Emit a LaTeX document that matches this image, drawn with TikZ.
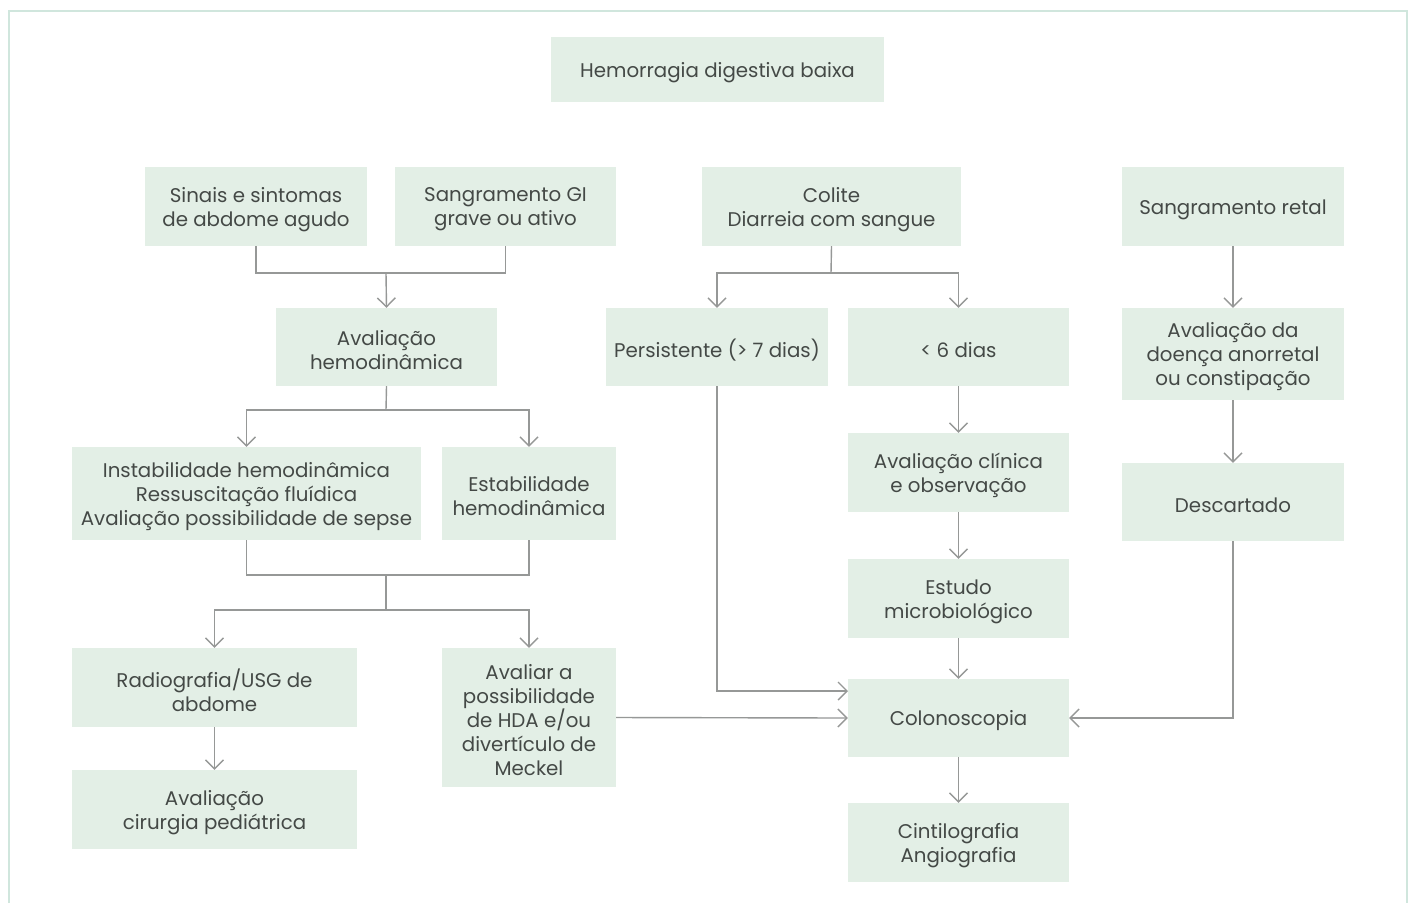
\documentclass[tikz,border=0pt]{standalone}
\usepackage{fontspec}
\setmainfont{Poppins}
\usetikzlibrary{arrows.meta}
\definecolor{boxfill}{RGB}{227,239,230}
\definecolor{boxtext}{RGB}{68,73,70}
\definecolor{linkgray}{RGB}{150,152,151}
\definecolor{framecol}{RGB}{208,230,221}
\tikzset{
  box/.style={fill=boxfill, inner sep=0pt},
  boxlabel/.style={text=boxtext, inner sep=0pt, align=center,
    font=\fontsize{19.8}{24}\selectfont},
  link/.style={draw=linkgray, line width=1.4pt},
  arr/.style={link, -{Straight Barb[length=9pt,width=18pt,line width=1.4pt]}},
}
\newcommand{\boxat}[6]{% name, x1, y1, x2, y2, text
  \node[box, minimum width={#4-#2}, minimum height={#5-#3}]
    (#1) at ({(#2+#4)/2},{(#3+#5)/2}) {};
  \node[boxlabel] at ([yshift=-3pt]#1.center) {#6};}
\begin{document}
\begin{tikzpicture}[x=1pt,y=-1pt]
\useasboundingbox (0,0) rectangle (1412,903);
\fill[white] (0,0) rectangle (1412,903);
% outer frame
\draw[framecol, line width=2.5pt] (9,903) -- (9,11) -- (1407,11) -- (1407,903);

% boxes
\boxat{top}{551}{37}{884}{102}{Hemorragia digestiva baixa}
\boxat{sinais}{145}{167}{367}{246}{Sinais e sintomas\\de abdome agudo}
\boxat{sgi}{395}{167}{616}{246}{Sangramento GI\\grave ou ativo}
\boxat{colite}{702}{167}{961}{246}{Colite\\Diarreia com sangue}
\boxat{retal}{1122}{167}{1344}{246}{Sangramento retal}
\boxat{avh}{276}{308}{497}{386}{Avaliação\\hemodinâmica}
\boxat{pers}{606}{308}{828}{386}{Persistente (> 7 dias)}
\boxat{seis}{848}{308}{1069}{386}{< 6 dias}
\boxat{anor}{1122}{308}{1344}{400}{Avaliação da\\doença anorretal\\ou constipação}
\boxat{instab}{72}{447}{421}{540}{Instabilidade hemodinâmica\\Ressuscitação fluídica\\Avaliação possibilidade de sepse}
\boxat{estab}{442}{447}{616}{540}{Estabilidade\\hemodinâmica}
\boxat{clin}{848}{433}{1069}{512}{Avaliação clínica\\e observação}
\boxat{desc}{1122}{463}{1344}{541}{Descartado}
\boxat{micro}{848}{559}{1069}{638}{Estudo\\microbiológico}
\boxat{radio}{72}{648}{357}{727}{Radiografia/USG de\\abdome}
\boxat{hda}{442}{648}{616}{787}{Avaliar a\\possibilidade\\de HDA e/ou\\divertículo de\\Meckel}
\boxat{colono}{848}{679}{1069}{757}{Colonoscopia}
\boxat{cirur}{72}{770}{357}{849}{Avaliação\\cirurgia pediátrica}
\boxat{cinti}{848}{803}{1069}{882}{Cintilografia\\Angiografia}

% junction points
\coordinate (j1) at (386,273);
\coordinate (j2) at (386,410);
\coordinate (j3) at (386,575);
\coordinate (j4) at (386,610);
\coordinate (j5) at (831,273);
\coordinate (pc) at (848,691);

% left column
\draw[link] (sinais.south) |- (j1) -| (sgi.south);
\draw[arr] (j1) -- (avh.north);
\draw[link] (avh.south) -- (j2);
\draw[arr] (j2) -| (instab.north);
\draw[arr] (j2) -| (estab.north);
\draw[link] (instab.south) |- (j3) -| (estab.south);
\draw[link] (j3) -- (j4);
\draw[arr] (j4) -| (radio.north);
\draw[arr] (j4) -| (hda.north);
\draw[arr] (radio) -- (cirur);
\draw[arr] (hda.east) -- (colono.west);

% middle column
\draw[link] (colite.south) -- (j5);
\draw[arr] (j5) -| (pers.north);
\draw[arr] (j5) -| (seis.north);
\draw[arr] (pers.south) |- (pc);
\draw[arr] (seis) -- (clin);
\draw[arr] (clin) -- (micro);
\draw[arr] (micro) -- (colono);
\draw[arr] (colono) -- (cinti);

% right column
\draw[arr] (retal) -- (anor);
\draw[arr] (anor) -- (desc);
\draw[arr] (desc.south) |- (colono.east);
\end{tikzpicture}
\end{document}
